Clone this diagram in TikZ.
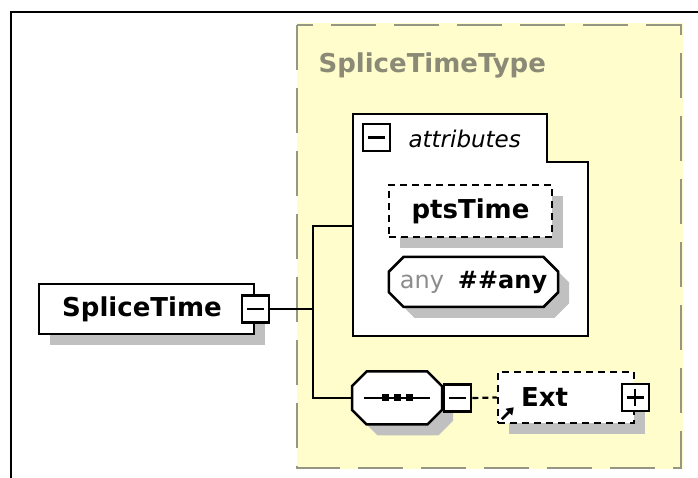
\documentclass[tikz,border=0pt]{standalone}
\usepackage{fontspec}
\setmainfont{DejaVu Sans}
\usetikzlibrary{positioning,shapes.misc,shadows,arrows.meta}
\definecolor{grpfill}{RGB}{255,253,204}
\definecolor{grpline}{RGB}{150,150,132}
\definecolor{grptext}{RGB}{138,138,118}
\definecolor{shade}{RGB}{192,192,192}
\definecolor{anygray}{RGB}{140,140,140}

\begin{document}
\begin{tikzpicture}[x=1pt,y=1pt]

\tikzset{
elem/.style={rectangle,draw,fill=white,line width=2.5pt,inner sep=0pt,
  font={\fontsize{26pt}{30pt}\selectfont\bfseries},
  drop shadow={shadow xshift=11pt,shadow yshift=-11pt,opacity=1,fill=shade}},
optelem/.style={elem,dash pattern=on 7pt off 5pt},
comp/.style={chamfered rectangle,chamfered rectangle xsep=11pt,draw,fill=white,
  line width=2.5pt,inner sep=0pt,
  drop shadow={shadow xshift=11pt,shadow yshift=-11pt,opacity=1,fill=shade}},
minusbox/.style={rectangle,draw,fill=white,line width=2.2pt,minimum width=27pt,
  minimum height=27pt,inner sep=0pt,
  path picture={\draw[line width=2.2pt] ([xshift=5pt]path picture bounding box.west)
    -- ([xshift=-5pt]path picture bounding box.east);}},
plusbox/.style={rectangle,draw,fill=white,line width=2.2pt,minimum width=27pt,
  minimum height=27pt,inner sep=0pt,
  path picture={\draw[line width=2.2pt] ([xshift=5pt]path picture bounding box.west)
    -- ([xshift=-5pt]path picture bounding box.east)
    ([yshift=-5pt]path picture bounding box.north)
    -- ([yshift=5pt]path picture bounding box.south);}},
conn/.style={line width=2.2pt},
font={\fontsize{26pt}{30pt}\selectfont}
}
\useasboundingbox (0,0) rectangle (698,478);

% frame
\draw[line width=1.8pt] (11,0) -- (11,466) -- (698,466);

% complex type
\fill[grpfill] (297,9) rectangle (683,455);
\draw[grpline,line width=2pt,dash pattern=on 45pt off 18pt]
  (297,453) -- (297,10) -- (681,10) -- (681,453) -- cycle;
\node[anchor=base west,text=grptext,font={\fontsize{26pt}{30pt}\selectfont\bfseries}]
  (typename) at (315,405) {SpliceTimeType};

% attributes
\draw[line width=2.5pt,fill=white] (353,364) -- (547,364) -- (547,316) -- (588,316)
  -- (588,142) -- (353,142) -- cycle;
\coordinate (attrin) at (353,252);
\node[minusbox] (attrpm) at (376.5,340.5) {};
\node[anchor=base west,font={\fontsize{23pt}{28pt}\selectfont\itshape}]
  (attrlbl) at (405,330) {attributes};

% elements
\node[elem,minimum width=215pt,minimum height=50pt] (splice) at (146.5,169)
  {\hspace*{-9pt}SpliceTime};
\node[minusbox] (splicepm) at (splice.east) {};
\node[optelem,minimum width=163pt,minimum height=52pt] (pts) at (470.5,267) {ptsTime};
\node[comp,minimum width=169pt,minimum height=50pt,font={\fontsize{24pt}{28pt}\selectfont}]
  (any) at (473.5,196) {{\color{anygray}any}\hspace{14pt}{\bfseries\#\#any}};
\node[comp,minimum width=90pt,minimum height=53pt] (seq) at (397,80)
  {\phantom{\rule{60pt}{28pt}}};
\node[minusbox,right=0pt of seq] (seqpm) {};
\node[optelem,minimum height=51pt,inner xsep=23pt,text width=90pt,align=left]
  (ext) at (566,80.5) {Ext};
\node[plusbox] (extpp) at (ext.east) {};

% sequence mark
\draw[line width=2.2pt] ([xshift=-33pt]seq.center) -- ([xshift=33pt]seq.center);
\foreach \dx in {-12,0,12}
  \fill ([xshift=\dx pt]seq.center) +(-3.5pt,-3.5pt) rectangle +(3.5pt,3.5pt);

% reference arrow
\draw[line width=2.8pt,-{Triangle[length=7pt,width=9pt]}]
  ([shift={(5pt,5pt)}]ext.south west) -- ++(12pt,12pt);

% edges
\coordinate (trunk) at (313,169);
\draw[conn] (splicepm.east) -- (trunk);
\draw[conn] (attrin) -| (trunk) |- (seq.west);
\draw[conn,dash pattern=on 6pt off 4pt] (seqpm.east) -- (ext.west);

\end{tikzpicture}
\end{document}
